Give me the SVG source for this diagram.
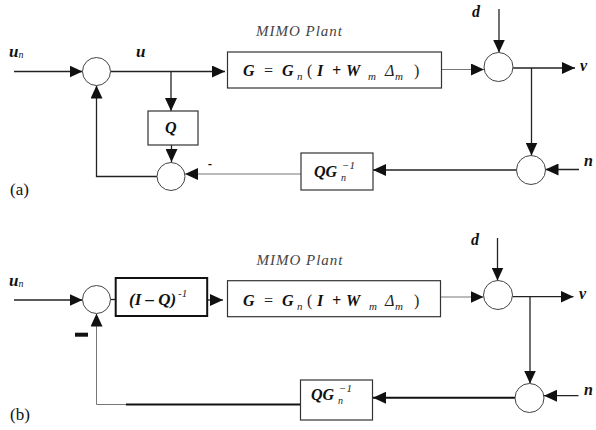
<svg xmlns="http://www.w3.org/2000/svg" width="596" height="430" viewBox="0 0 596 430">
<style>
.ln{fill:none;stroke:#222;stroke-width:1.3}
.lg{fill:none;stroke:#777;stroke-width:1}
.lk{fill:none;stroke:#111;stroke-width:2}
.bx{fill:#fff;stroke:#333;stroke-width:1.2}
.bk{fill:#fff;stroke:#111;stroke-width:2}
.ci{fill:#fff;stroke:#444;stroke-width:1}
.m{font-family:"Liberation Serif","Times New Roman",serif;font-style:italic;font-weight:bold;fill:#111}
.s{font-family:"Liberation Serif","Times New Roman",serif;font-style:italic;font-weight:normal;fill:#222}
.r{font-family:"Liberation Serif","Times New Roman",serif;font-weight:normal;fill:#222}
.t{font-family:"Liberation Serif","Times New Roman",serif;font-style:italic;font-size:15px;fill:#444}
.lb{font-family:"Liberation Serif","Times New Roman",serif;font-size:17px;fill:#111}
</style>
<defs>
<marker id="ah" markerUnits="userSpaceOnUse" markerWidth="13" markerHeight="12" refX="13" refY="6" orient="auto"><path d="M0,0 L13,6 L0,12 z" fill="#111"/></marker>
</defs>

<!-- Panel (a) -->
<g id="connectors-a">
<path class="ln" d="M14,71.5 H82.5" marker-end="url(#ah)"/>
<path class="ln" d="M110.5,71.5 H225" marker-end="url(#ah)"/>
<path class="ln" d="M171,71.5 V111" marker-end="url(#ah)"/>
<path class="ln" d="M171.5,145 V162" marker-end="url(#ah)"/>
<path class="ln" d="M157,176.5 H96.5 V85.5" marker-end="url(#ah)"/>
<path class="lg" d="M301,174 H185" marker-end="url(#ah)"/>
<path class="ln" d="M516.5,170 H373" marker-end="url(#ah)"/>
<path class="lg" d="M441.5,69.5 H484" marker-end="url(#ah)"/>
<path class="ln" d="M499,9 V52.5" marker-end="url(#ah)"/>
<path class="ln" d="M513,68 H575" marker-end="url(#ah)"/>
<path class="ln" d="M531.5,68 V155.5" marker-end="url(#ah)"/>
<path class="ln" d="M579,169.5 H545.5" marker-end="url(#ah)"/>
</g>
<g id="sum1-a"><circle class="ci" cx="96.5" cy="71.5" r="14"/></g>
<g id="Q-a"><rect class="bx" x="148" y="111" width="50" height="34"/><text class="m" x="165" y="133" font-size="16">Q</text></g>
<g id="sum2-a"><circle class="ci" cx="171" cy="176.5" r="14"/></g>
<g id="G-a">
<rect class="bx" x="227.5" y="52" width="214" height="36"/>
<text class="r" font-size="16"><tspan class="m" x="243" y="76">G</tspan><tspan x="264" y="76">=</tspan><tspan class="m" x="282" y="76">G</tspan><tspan class="s" x="297" y="80" font-size="11">n</tspan><tspan x="307" y="76">(</tspan><tspan class="m" x="317" y="76">I</tspan><tspan class="m" x="332" y="76">+</tspan><tspan class="m" x="346" y="76">W</tspan><tspan class="s" x="368" y="80" font-size="11">m</tspan><tspan class="s" x="385" y="76">Δ</tspan><tspan class="s" x="395" y="80" font-size="11">m</tspan><tspan x="414" y="76">)</tspan></text>
</g>
<text class="t" x="256" y="36" textLength="86">MIMO Plant</text>
<g id="sum3-a"><circle class="ci" cx="498.5" cy="67" r="14.5"/></g>
<g id="sum4-a"><circle class="ci" cx="531" cy="170" r="14.5"/></g>
<g id="QG-a">
<rect class="bx" x="301" y="153" width="72" height="37"/>
<text class="m" font-size="16"><tspan x="314" y="177">QG</tspan><tspan class="s" x="341" y="181" font-size="10">n</tspan><tspan class="s" x="342" y="169" font-size="11">−1</tspan></text>
</g>
<text class="m" x="9" y="57" font-size="17">u<tspan class="s" font-size="10" dy="1">n</tspan></text>
<text class="m" x="136" y="57" font-size="17">u</text>
<text class="m" x="472" y="17" font-size="16">d</text>
<text class="m" x="580" y="71" font-size="16">v</text>
<text class="m" x="584" y="166" font-size="16">n</text>
<text class="m" x="208" y="168" font-size="12">-</text>
<text class="lb" x="10" y="195">(a)</text>

<!-- Panel (b) -->
<g id="connectors-b">
<path class="ln" d="M14,300 H82.5" marker-end="url(#ah)"/>
<path class="ln" d="M110.5,299.5 H115.7"/>
<path class="ln" d="M207.5,300 H223" marker-end="url(#ah)"/>
<path class="lg" d="M441,297 H483.5" marker-end="url(#ah)"/>
<path class="ln" d="M497.5,238 V280.5" marker-end="url(#ah)"/>
<path class="ln" d="M512.5,296.7 H573.5" marker-end="url(#ah)"/>
<path class="ln" d="M530,296.7 V383.5" marker-end="url(#ah)"/>
<path class="ln" d="M578.5,395.7 H544" marker-end="url(#ah)"/>
<path class="lk" d="M515,397.7 H373" marker-end="url(#ah)"/>
<path class="lk" d="M300.5,404.5 H126"/>
<path class="lg" d="M126,404.5 H96.5 V313.5" marker-end="url(#ah)"/>
</g>
<g id="sum1-b"><circle class="ci" cx="96.5" cy="299.5" r="14"/></g>
<g id="IQ-b">
<rect class="bk" x="115.7" y="278" width="91.5" height="38"/>
<text class="m" font-size="17"><tspan x="129" y="305">(I – Q)</tspan><tspan class="s" x="178" y="297" font-size="11">-1</tspan></text>
</g>
<g id="G-b">
<rect class="bx" x="227.5" y="280.7" width="213" height="36"/>
<text class="r" font-size="16"><tspan class="m" x="243" y="306">G</tspan><tspan x="264" y="306">=</tspan><tspan class="m" x="282" y="306">G</tspan><tspan class="s" x="297" y="310" font-size="11">n</tspan><tspan x="307" y="306">(</tspan><tspan class="m" x="317" y="306">I</tspan><tspan class="m" x="332" y="306">+</tspan><tspan class="m" x="346" y="306">W</tspan><tspan class="s" x="369" y="310" font-size="11">m</tspan><tspan class="s" x="385" y="306">Δ</tspan><tspan class="s" x="395" y="310" font-size="11">m</tspan><tspan x="414" y="306">)</tspan></text>
</g>
<text class="t" x="256.5" y="265" textLength="86">MIMO Plant</text>
<g id="sum3-b"><circle class="ci" cx="498" cy="295" r="14.5"/></g>
<g id="sum4-b"><circle class="ci" cx="529.5" cy="398" r="14.5"/></g>
<g id="QG-b">
<rect class="bx" x="300.5" y="380" width="72" height="40"/>
<text class="m" font-size="16"><tspan x="311" y="400">QG</tspan><tspan class="s" x="338" y="404" font-size="10">n</tspan><tspan class="s" x="339" y="392" font-size="11">−1</tspan></text>
</g>
<text class="m" x="9" y="286" font-size="17">u<tspan class="s" font-size="10" dy="1">n</tspan></text>
<text class="m" x="471" y="245" font-size="16">d</text>
<text class="m" x="579" y="299" font-size="16">v</text>
<text class="m" x="584" y="395" font-size="16">n</text>
<rect x="75" y="332.7" width="13" height="4" fill="#111"/>
<text class="lb" x="10" y="420">(b)</text>
</svg>
